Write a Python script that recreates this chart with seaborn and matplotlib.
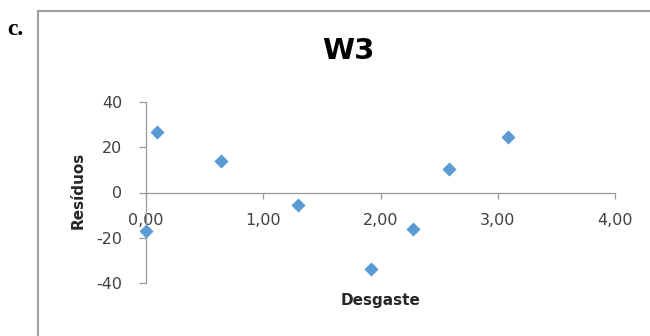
import matplotlib
matplotlib.use("Agg")
import matplotlib.pyplot as plt
from matplotlib.patches import Rectangle
import seaborn as sns
import pandas as pd

# Data
desgaste = [0.00, 0.09, 0.64, 1.30, 1.92, 2.28, 2.58, 3.09]
residuos = [-17.0, 26.8, 14.0, -5.6, -33.6, -16.3, 10.4, 24.6]
x_ticks = [0, 1, 2, 3, 4]
x_tick_labels = ["0,00", "1,00", "2,00", "3,00", "4,00"]
y_ticks = [-40, -20, 0, 20, 40]
y_tick_labels = ["-40", "-20", "0", "20", "40"]

df = pd.DataFrame({"Desgaste": desgaste, "Resíduos": residuos})

sns.set_theme(style="white")
plt.rcParams["font.family"] = ["DejaVu Sans"]

W, H = 650, 336
fig = plt.figure(figsize=(W / 100, H / 100), dpi=100)
fig.patch.set_facecolor("white")

ax_left, ax_right = 146 / W, 615 / W
ax_top, ax_bottom = 1 - 102 / H, 1 - 283 / H
ax = fig.add_axes([ax_left, ax_bottom, ax_right - ax_left, ax_top - ax_bottom])
ax.set_facecolor("none")

sns.scatterplot(data=df, x="Desgaste", y="Resíduos", marker="D", s=52,
                color="#5B9BD5", edgecolor="#5B9BD5", linewidth=0, ax=ax,
                clip_on=False, zorder=3)

ax.set_xlim(0, 4)
ax.set_ylim(-40, 40)
ax.set_xticks(x_ticks)
ax.set_xticklabels(x_tick_labels)
ax.set_yticks(y_ticks)
ax.set_yticklabels(y_tick_labels)

axis_col = "#999999"
for s in ["top", "right"]:
    ax.spines[s].set_visible(False)
ax.spines["bottom"].set_position(("data", 0))
ax.spines["left"].set_position(("data", 0))
for s in ["bottom", "left"]:
    ax.spines[s].set_color(axis_col)
    ax.spines[s].set_linewidth(0.9)

ax.tick_params(axis="x", direction="out", length=4, width=0.9, color=axis_col,
               pad=11, labelsize=11.5, labelcolor="#404040", bottom=True)
ax.tick_params(axis="y", direction="out", length=5, width=0.9, color=axis_col,
               pad=12, labelsize=11.5, labelcolor="#404040", left=True)

ax.set_xlabel("")
ax.set_ylabel("")
fig.text((ax_left + ax_right) / 2, 1 - 300 / H, "Desgaste", ha="center", va="center",
         fontsize=11, fontweight="bold", color="#262626")
fig.text(78 / W, 1 - 190 / H, "Resíduos", ha="center", va="center", rotation=90,
         fontsize=11, fontweight="bold", color="#262626")
fig.text(348 / W, 1 - 51 / H, "W3", ha="center", va="center",
         fontsize=21, fontweight="bold", color="black")

# outer frame and panel label
fig.add_artist(Rectangle((38 / W, -0.2), 1.2, (1 - 11 / H) + 0.2,
                         transform=fig.transFigure, fill=False,
                         edgecolor="#a0a0a0", linewidth=1.5))
fig.text(7 / W, 1 - 35 / H, "c.", ha="left", va="baseline",
         fontsize=17, fontweight="bold", family=["Liberation Serif"], color="black")

fig.savefig("out.png", dpi=100, facecolor="white")
